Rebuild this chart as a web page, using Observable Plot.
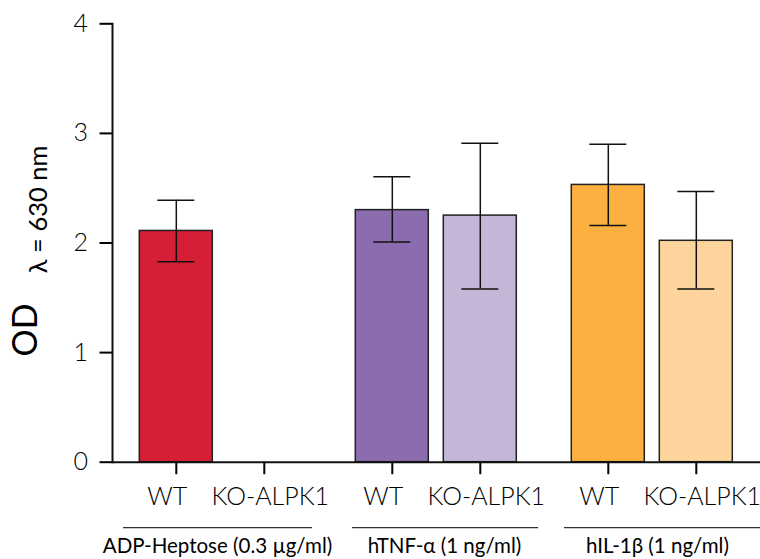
<!DOCTYPE html>
<html>
<head>
<meta charset="utf-8">
<script src="https://cdn.jsdelivr.net/npm/d3@7"></script>
<script src="https://cdn.jsdelivr.net/npm/@observablehq/plot@0.6"></script>
<style>
  html, body { margin: 0; padding: 0; background: #ffffff; }
  #chart { width: 760px; height: 559px; }
</style>
</head>
<body>
<div id="chart"></div>
<script>
// ---- data ----
const groups = ["ADP-Heptose (0.3 µg/ml)", "hTNF-α (1 ng/ml)", "hIL-1β (1 ng/ml)"];
const genotypes = ["WT", "KO-ALPK1"];
// order: [group0 WT, group0 KO, group1 WT, group1 KO, group2 WT, group2 KO]
const means = [2.11, null, 2.30, 2.25, 2.53, 2.02];
const lowers = [1.83, null, 2.01, 1.58, 2.16, 1.58];
const uppers = [2.39, null, 2.605, 2.91, 2.90, 2.47];
const barColors = ["#D51F36", "#FFFFFF", "#8B6CAF", "#C4B6D6", "#FBB040", "#FDD59C"];
const yTicks = [0, 1, 2, 3, 4];
const yTitleMain = "OD";
const yTitleSub = "λ = 630 nm";

// ---- styling (label nudges as in the reference layout) ----
const genotypeLabelShift = [-9, 6];
const groupLabelShift = [-3, 8, 5];
const groupLineInsets = [[11, 16], [24, 6], [20, 0]];

const rows = [];
groups.forEach((g, gi) => genotypes.forEach((k, ki) => {
  const i = gi * genotypes.length + ki;
  rows.push({group: g, genotype: k, mean: means[i], lo: lowers[i], hi: uppers[i], color: barColors[i]});
}));
const present = rows.filter(d => d.mean != null);

const chart = Plot.plot({
  width: 760,
  height: 559,
  marginLeft: 111.7,
  marginRight: 0,
  marginTop: 23.3,
  marginBottom: 97.3,
  style: {fontFamily: "Lato, 'Open Sans', sans-serif", background: "#ffffff", color: "#000"},
  fx: {domain: groups, padding: 0},
  x: {domain: genotypes, paddingInner: 0.169, paddingOuter: 0.2985},
  y: {domain: [0, 4]},
  color: {type: "identity"},
  marks: [
    Plot.barY(present, {fx: "group", x: "genotype", y: "mean", fill: "color", stroke: "#222", strokeWidth: 1.5}),
    Plot.ruleX(present, {fx: "group", x: "genotype", y1: "lo", y2: "hi", stroke: "#111", strokeWidth: 1.5}),
    Plot.tickY(present, {fx: "group", x: "genotype", y: "hi", stroke: "#111", strokeWidth: 1.5, insetLeft: 18, insetRight: 18}),
    Plot.tickY(present, {fx: "group", x: "genotype", y: "lo", stroke: "#111", strokeWidth: 1.5, insetLeft: 18, insetRight: 18}),
    // y axis
    Plot.axisY({ticks: yTicks, tickSize: 12.5, tickPadding: 12, fontSize: 25, fontWeight: 300, strokeWidth: 2, label: null, tickFormat: d3.format("d")}),
    Plot.frame({anchor: "left", facetAnchor: "left", stroke: "#111", strokeWidth: 2}),
    // x axis: line, tick marks, labels
    Plot.ruleY([0], {stroke: "#111", strokeWidth: 2}),
    Plot.axisX({tickSize: 12.5, strokeWidth: 2, tickFormat: () => "", label: null}),
    ...genotypes.map((k, ki) => Plot.axisX({ticks: [k], tickSize: 0, tickPadding: 25.5, fontSize: 25, fontWeight: 300, label: null, dx: genotypeLabelShift[ki]})),
    // group labels and their lines
    ...groups.map((g, gi) => Plot.ruleY([0], {fx: [g], dy: 65.5, insetLeft: groupLineInsets[gi][0], insetRight: groupLineInsets[gi][1], stroke: "#333", strokeWidth: 1.2})),
    ...groups.map((g, gi) => Plot.axisFx({ticks: [g], anchor: "bottom", tickSize: 0, tickPadding: 76, fontSize: 20.5, label: null, dx: groupLabelShift[gi]})),
    // y title with subscript
    Plot.text([yTitleMain], {fx: [groups[0]], text: d => d, frameAnchor: "left", rotate: -90, textAnchor: "start", lineAnchor: "bottom", dx: -75.7, dy: 113.5, fontSize: 34, fill: "#000"}),
    Plot.text([yTitleSub], {fx: [groups[0]], text: d => d, frameAnchor: "left", rotate: -90, textAnchor: "end", lineAnchor: "bottom", dx: -65.7, dy: -97.5, fontSize: 25.5, fill: "#000"})
  ]
});
document.getElementById("chart").appendChild(chart);
</script>
</body>
</html>
